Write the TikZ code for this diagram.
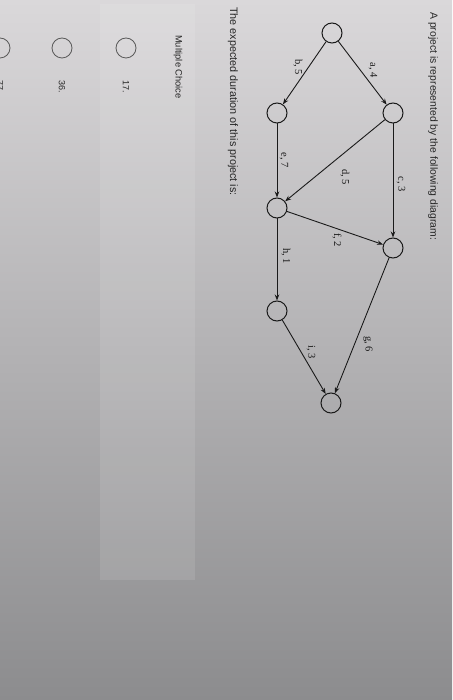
\documentclass[tikz,border=0pt]{standalone}
\usepackage{fontspec}
\setmainfont{Liberation Sans}
\newfontfamily\lblfont{Liberation Serif}
\usetikzlibrary{arrows.meta}

\definecolor{bgtop}{HTML}{DAD8DA}
\definecolor{bgmid}{HTML}{C8C7CA}
\definecolor{bgbot}{HTML}{8C8C8E}
\definecolor{ink}{HTML}{1A1A1A}
\definecolor{txt}{HTML}{262626}

\tikzset{
	evt/.style={draw=ink, circle, minimum size=20pt, inner sep=0pt, line width=1pt},
	act/.style={draw=ink, line width=0.9pt, -{Stealth[length=6pt,width=4.5pt]}},
	lbl/.style={rotate=-90, text=ink, font=\lblfont\fontsize{10.5}{12}\selectfont},
	rtext/.style={rotate=-90, anchor=west, inner sep=0pt, text=txt},
	opt/.style={draw=black!65, circle, minimum size=20pt, inner sep=0pt, line width=0.8pt}
}

\begin{document}
\begin{tikzpicture}[x=1pt, y=-1pt]
	\useasboundingbox (0,0) rectangle (452,700);
	\shade[top color=bgtop, middle color=bgmid, bottom color=bgbot] (0,0) rectangle (452,700);
	\fill[white, opacity=0.1] (100,4) rectangle (195,580);
	
	% question
	\node[rtext, font=\fontsize{10.4}{12}\selectfont] (title) at (433,12) {A project is represented by the following diagram:};
	
	% events
	\node[evt] (ev1) at (332,33) {};
	\node[evt] (ev2) at (393,113) {};
	\node[evt] (ev3) at (277,113) {};
	\node[evt] (ev4) at (277,208) {};
	\node[evt] (ev5) at (393,248) {};
	\node[evt] (ev6) at (277,311) {};
	\node[evt] (ev7) at (331,403) {};
	
	% activities
	\draw[act] (ev1) -- (ev2);
	\draw[act] (ev1) -- (ev3);
	\draw[act] (ev2) -- (ev5);
	\draw[act] (ev2) -- (ev4);
	\draw[act] (ev3) -- (ev4);
	\draw[act] (ev4) -- (ev5);
	\draw[act] (ev4) -- (ev6);
	\draw[act] (ev5) -- (ev7);
	\draw[act] (ev6) -- (ev7);
	
	\node[lbl] (la) at (373,70) {a, 4};
	\node[lbl] (lb) at (298,67) {b, 5};
	\node[lbl] (lc) at (401,184) {c, 3};
	\node[lbl] (ld) at (345,177) {d, 5};
	\node[lbl] (le) at (284,160) {e, 7};
	\node[lbl] (lf) at (337,240) {f, 2};
	\node[lbl] (lh) at (286,256) {h, 1};
	\node[lbl] (lg) at (368,344) {g, 6};
	\node[lbl] (li) at (311,352) {i, 3};
	
	\node[rtext, font=\fontsize{10.8}{12}\selectfont] (ask) at (233,7) {The expected duration of this project is:};
	\node[rtext, font=\fontsize{9.3}{11}\selectfont] (mc) at (178,35) {Multiple Choice};
	
	% choices
	\foreach \x/\v [count=\i] in {126/17., 62/36., 0/77.}{
		\node[opt] (opt\i) at (\x,48) {};
		\node[rtext, font=\fontsize{9}{11}\selectfont] (val\i) at (\x,80) {\v};
	}
\end{tikzpicture}
\end{document}
